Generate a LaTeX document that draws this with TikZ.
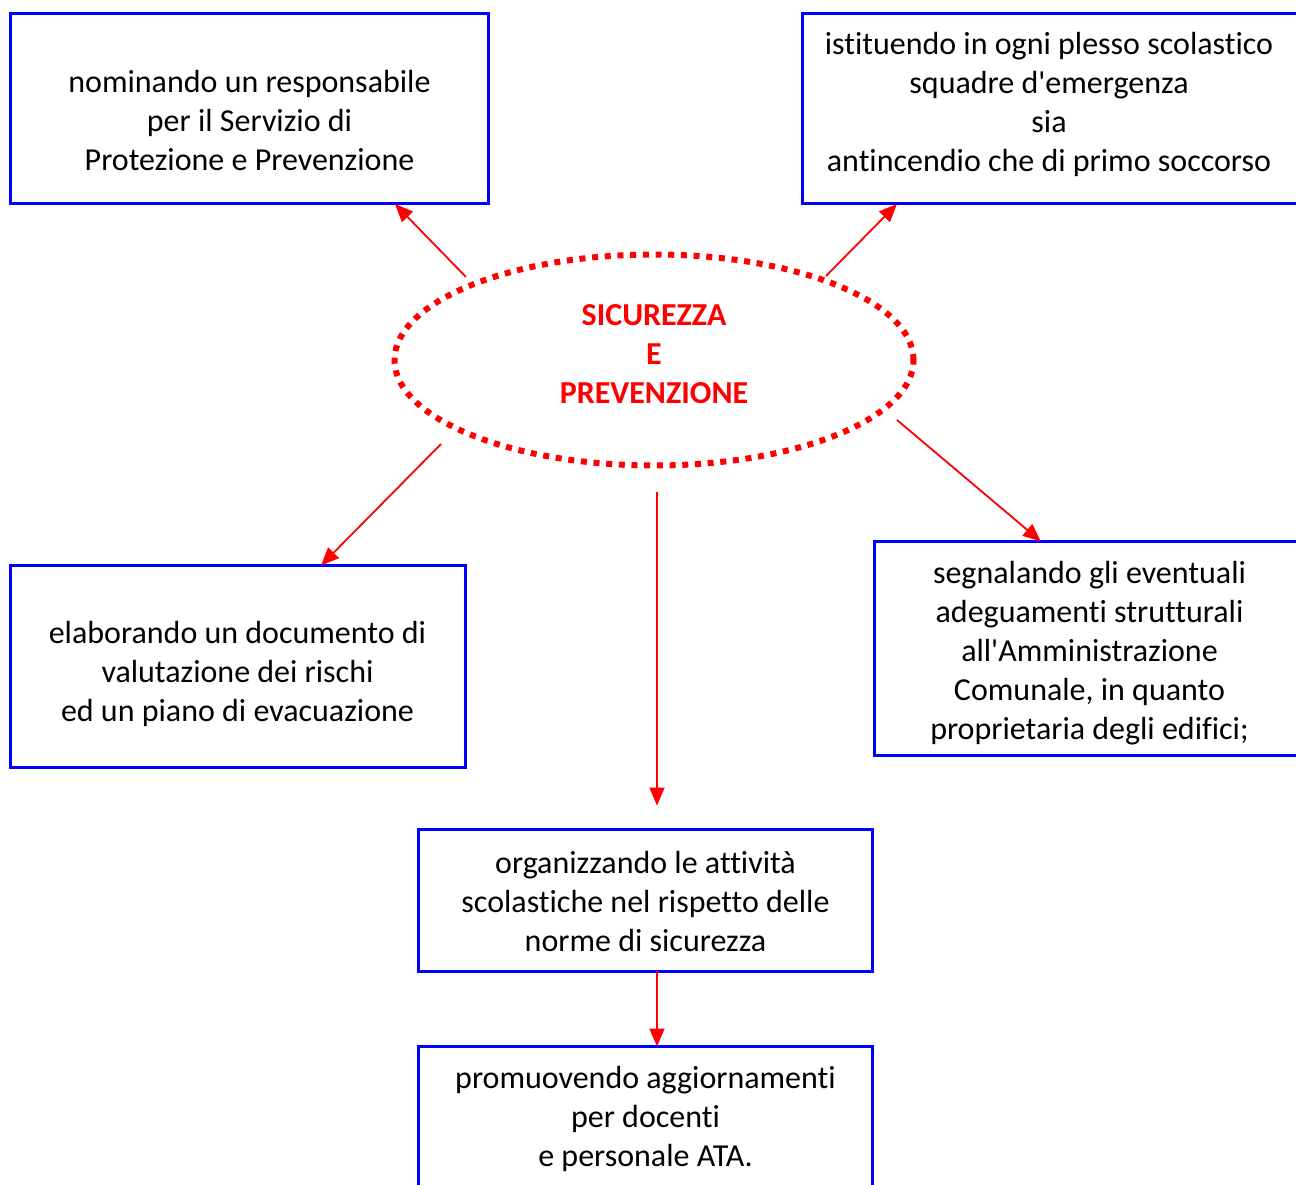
\documentclass[tikz,border=0pt]{standalone}
\usepackage{fontspec}
\newfontfamily\calib{Carlito}[Ligatures=NoCommon]
\usetikzlibrary{shapes.geometric,arrows.meta,calc}
\definecolor{bxblue}{RGB}{0,0,255}
\definecolor{arred}{RGB}{255,0,0}
\tikzset{
  box/.style={draw=bxblue, line width=3pt, rectangle, inner sep=0pt, outer sep=0pt},
  txt/.style={align=center, inner sep=0pt, font=\calib\fontsize{32}{39}\selectfont, text=black},
  title/.style={align=center, inner sep=0pt, font=\calib\fontsize{32}{39}\selectfont\bfseries, text=arred},
  oval/.style={ellipse, draw=arred, line width=6pt, dash pattern=on 6pt off 6.7pt, inner sep=0pt, outer sep=0pt},
  arr/.style={draw=arred, line width=1.8pt, -{Triangle[length=18pt,width=15pt]}}
}
\begin{document}
\begin{tikzpicture}[x=1pt,y=-1pt]
\useasboundingbox (0,0) rectangle (1296,1185);
% boxes
\node[box, minimum width=478, minimum height=190.5] (b1) at (249.5,108.75) {};
\node[box, minimum width=507.5, minimum height=190.5] (b2) at (1056.25,108.75) {};
\node[box, minimum width=454.5, minimum height=201.5] (b3) at (237.75,666.25) {};
\node[box, minimum width=435.5, minimum height=214] (b4) at (1092.25,648.5) {};
\node[box, minimum width=453.5, minimum height=141.5] (b5) at (645.25,900.25) {};
\node[box, minimum width=453.5, minimum height=153.5] (b6) at (645.25,1123.25) {};
% texts
\node[txt] (t1) at (249.5,121) {nominando un responsabile\\per il Servizio di\\Protezione e Prevenzione};
\node[txt] (t2) at (1049,104.5) {istituendo in ogni plesso scolastico\\squadre d'emergenza\\sia\\antincendio che di primo soccorso};
\node[txt] (t3) at (237.5,674) {elaborando un documento di\\valutazione dei rischi\\ed un piano di evacuazione};
\node[txt] (t4) at (1089.5,653) {segnalando gli eventuali\\adeguamenti strutturali\\all'Amministrazione\\Comunale, in quanto\\proprietaria degli edifici;};
\node[txt] (t5) at (645.5,901) {organizzando le attività\\scolastiche nel rispetto delle\\norme di sicurezza};
\node[txt] (t6) at (645.5,1119) {promuovendo aggiornamenti\\per docenti\\e personale ATA.};
% ellipse
\node[oval, minimum width=519, minimum height=211] (e) at (654,360) {};
\node[title] (et) at (654,354) {SICUREZZA\\E\\PREVENZIONE};
% connector ends
\coordinate (s1) at ($(e.center)+(-188,-83)$);
\coordinate (s2) at ($(e.center)+(172,-84)$);
\coordinate (s3) at ($(e.center)+(-213,84)$);
\coordinate (s4) at ($(e.center)+(243,60)$);
\coordinate (s5) at ($(e.center)+(3,132)$);
\coordinate (c5) at ($(b5.north)+(11.75,-24)$);
% connectors
\draw[arr] (s1) -- ([xshift=145.5pt]b1.south);
\draw[arr] (s2) -- ([xshift=-159.25pt]b2.south);
\draw[arr] (s3) -- ([xshift=83.25pt]b3.north);
\draw[arr] (s4) -- ([xshift=-51.25pt]b4.north);
\draw[arr] (s5) -- (c5);
\draw[arr] ([xshift=11.75pt]b5.south) -- ([xshift=11.75pt]b6.north);
\end{tikzpicture}
\end{document}
